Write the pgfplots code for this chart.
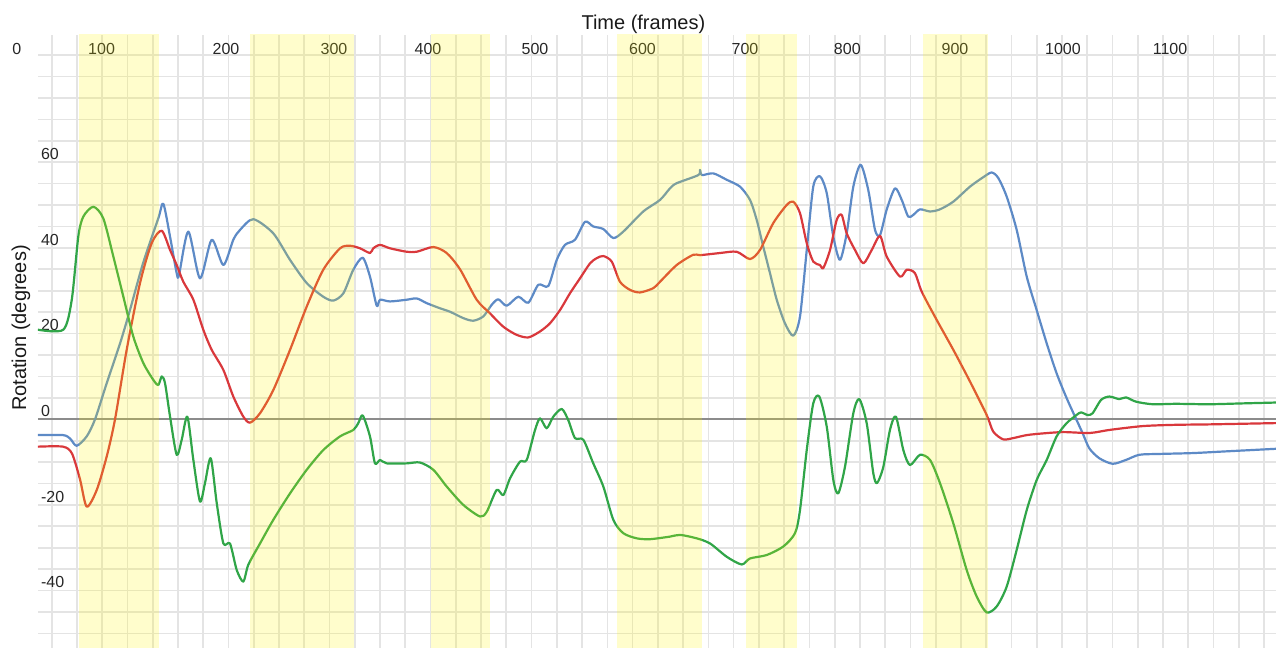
\documentclass[border=0pt]{standalone}
\usepackage{fontspec}
\setmainfont{Liberation Sans}
\usepackage{pgfplots}
\pgfplotsset{compat=1.18}

\definecolor{gridgray}{RGB}{228,228,228}
\definecolor{zerogray}{RGB}{140,140,140}
\definecolor{rotblue}{RGB}{93,138,198}
\definecolor{rotred}{RGB}{217,56,60}
\definecolor{rotgreen}{RGB}{48,165,72}
\definecolor{bandyellow}{RGB}{255,245,0}

\begin{document}
\begin{tikzpicture}
\path[use as bounding box] (0,0) rectangle (638pt,324pt);
\begin{axis}[
  at={(19pt,0pt)}, anchor=south west,
  scale only axis, width=619pt, height=306.5pt,
  xmin=40.5, xmax=1199.2, ymin=-53.4, ymax=89.7,
  axis line style={draw=none},
  major tick length=0pt,
  % grid lines
  xtick={53.35,76.988,...,1189},
  xticklabels={},
  ytick={-50,-45,...,85},
  yticklabels={},
  grid=major,
  grid style={gridgray, line width=0.85pt},
  % labelled positions, drawn after the grid
  extra x ticks={100,216.5,317.5,405.5,505.7,606.3,702.2,798,898.8,999.8,1100},
  extra x tick labels={100,200,300,400,500,600,700,800,900,1000,1100},
  extra x tick style={grid=none},
  extra y ticks={-40,-20,0,20,40,60},
  extra y tick labels={-40,-20,0,20,40,60},
  extra y tick style={grid=none},
  xticklabel pos=upper,
  x tick label style={anchor=base, yshift=-10pt},
  y tick label style={anchor=base west, inner sep=0pt, xshift=1.35pt, yshift=1.4pt},
  tick label style={font=\fontsize{8}{9.6}\selectfont, text=black!85},
  xlabel={Time (frames)},
  ylabel={Rotation (degrees)},
  label style={font=\fontsize{10}{12}\selectfont, text=black!90},
  xlabel style={at={(axis description cs:0.489,1)}, anchor=base, yshift=2.8pt},
  ylabel style={at={(axis description cs:-0.0137,0.522)}, anchor=center},
  every axis plot/.append style={line width=1.1pt, smooth, tension=0.45, line join=round, line cap=round},
]

% zero reference line
\draw[zerogray, line width=1pt] (axis cs:40.5,0) -- (axis cs:1199.2,0);

% blue rotation
\addplot[rotblue] coordinates {
(40.5,-3.7) (63.9,-3.7) (70.5,-4.5) (76.7,-6.2) (86.1,-4) (93.9,0) (104.8,8.4)
(117.3,17.7) (126.6,25.5) (138.8,36.4) (153.1,46.9) (157.8,50.3) (164.1,42.6)
(170.3,34.1) (172.5,33.7) (181.2,43.8) (192.1,32.9) (203.1,41.9) (214,36)
(223.3,41.9) (229.6,44.2) (242,46.7) (260.7,43.4) (276.4,37.2) (292,31.8)
(307.5,28.6) (316.9,27.7) (326.3,29.4) (335.6,34.9) (344.4,37.7) (351.2,33.3)
(357.5,26.5) (360.6,27.9) (370,27.5) (385.6,27.9) (395,28.2) (404.3,27.1)
(416.8,25.9) (426.1,25.1) (438.6,23.6) (447.9,23) (457.3,24) (465.1,26.7)
(471.3,28) (479.2,26.5) (490,28.6) (499.4,27.2) (508.8,31.4) (518.1,31.1)
(526,37.2) (533.7,40.7) (543.1,41.9) (552.5,46.1) (560.2,45) (569.6,44.4)
(579,42.3) (588.3,43.8) (607,48.5) (622.7,51.2) (632,53.9) (638.3,55.1)
(658.5,57) (660.1,58.2) (661.9,57) (672.5,57.4) (685.1,55.9) (697.5,54.3)
(706.9,51.2) (713.2,46.5) (719.3,40.3) (725.6,34.1) (731.9,27.9) (739.6,22.4)
(747.4,19.5) (753.7,24) (760,39.5) (766.1,54.3) (772.4,56.7) (778.7,52.8)
(784.9,42.6) (791.1,37.2) (797.4,43.4) (803.6,54.3) (810.5,59.4) (817.6,53.5)
(823.9,44.2) (828.6,43) (834.8,48.9) (842.6,53.9) (848.9,51.2) (855,47.3)
(859.7,47.7) (866,49) (875.4,48.5) (884.7,49) (897.2,50.8) (912.8,54.3)
(925.2,56.5) (933.1,57.6) (939.3,56.3) (947.1,52) (956.5,44.2) (965.9,33.3)
(975.2,25.5) (984.6,17.7) (993.9,10.7) (1003.3,4.9) (1012.6,-0.2) (1018.3,-3.3)
(1024.5,-6.8) (1033.8,-9.1) (1046.3,-10.4) (1058.8,-9.5) (1071.2,-8.3)
(1090,-8.1) (1121.2,-7.9) (1152.4,-7.5) (1199.2,-6.9)
};

% red rotation
\addplot[rotred] coordinates {
(40.5,-6.4) (63.9,-6.4) (72.3,-8) (79.8,-14) (86.1,-20.4) (95.5,-16.5)
(104.8,-8.7) (112.6,0) (123.5,16.2) (136,31.8) (146.9,41.1) (156.3,44)
(164.1,39.5) (170.3,36) (176.5,32.1) (185.9,27.9) (195.2,20.9) (203.1,16.2)
(214,11.5) (223.3,5.3) (232.7,0.6) (239,-0.8) (248.3,1.4) (260.7,6.8)
(276.4,16.2) (292,26.3) (307.5,34.9) (323.2,39.9) (332.5,40.5) (341.9,39.9)
(351.2,38.8) (354.3,39.9) (360.6,40.7) (370,39.9) (385.6,39.1) (395,39.1)
(410.5,40.2) (423,38.8) (435.5,35) (451.1,27.9) (463.6,24.7) (476,21.6)
(488.5,19.7) (499.4,19.1) (510.4,20.5) (519.7,22.4) (529.1,25.5) (538.4,29.4)
(547.8,32.9) (557.2,36.4) (563.4,37.6) (569.6,38.1) (577.5,36.8) (585.2,32.1)
(594.6,30.2) (603.9,29.6) (616.4,30.6) (622.7,32.1) (638.3,36) (653.8,38.4)
(660.1,38.3) (678.8,38.8) (694.4,39.1) (706.9,37.4) (716.2,39.5) (728.7,45.8)
(741.2,50) (747.4,50.8) (753.7,48.1) (760,41.1) (766.1,36.8) (772.4,36)
(775.5,35.3) (781.8,39.5) (788,46.5) (792.7,47.7) (797.4,43.4) (805.2,39.5)
(813,36.4) (820.8,39.5) (828.6,42.8) (834.8,38) (847.3,33.3) (853.6,34.9)
(861.3,34.1) (867.6,29.8) (881.6,23.2) (897.2,16.2) (912.8,8.8) (928.4,1)
(934.6,-2.9) (943.9,-4.7) (953.3,-4.4) (965.9,-3.7) (981.4,-3.3) (1000.1,-3)
(1025.1,-3.2) (1043.2,-2.5) (1074.4,-1.6) (1105.6,-1.3) (1136.8,-1.2)
(1199.2,-0.9)
};

% green rotation
\addplot[rotgreen] coordinates {
(40.5,20.9) (64.2,20.9) (72.1,27.9) (78.2,42.6) (82.9,47.3) (92.3,49.6)
(101.6,46.9) (111,38) (120.4,28.6) (129.7,19.3) (139.1,13.1) (148.4,9.2)
(153.1,8) (156.3,10) (159.4,8.4) (164.1,0.6) (170.3,-8.3) (175,-4.8)
(180.3,0.6) (185.9,-9.5) (192.1,-19.2) (196.8,-14.9) (202.2,-9.1)
(207.8,-19.6) (214,-29) (220.2,-29) (226.5,-35.2) (232.7,-37.9) (237.3,-34)
(248.3,-29) (260.7,-23.5) (276.4,-17.3) (292,-11.8) (307.5,-7.2) (323.2,-4)
(335.6,-2.5) (340.3,-0.9) (344.4,0.9) (351.2,-4) (355.9,-10.3) (360.6,-9.5)
(366.9,-10.3) (385.6,-10.3) (398,-10.1) (410.5,-11.8) (423,-15.7) (438.6,-20)
(454.2,-22.7) (460.5,-21.6) (469.8,-16.5) (476,-17.7) (482.3,-13.8)
(491.6,-9.9) (497.9,-9.5) (505.7,-2.5) (510.4,0.2) (516.6,-2.1) (522.8,0.6)
(530.7,2.4) (536.8,-0.2) (543.1,-4.4) (550.9,-4.8) (560.2,-10.3)
(569.6,-15.7) (579,-23.5) (588.3,-26.6) (600.9,-27.8) (613.3,-28)
(632,-27.4) (641.4,-27) (657,-27.8) (669.5,-29) (685.1,-32.1) (699.1,-33.9)
(706.9,-32.5) (722.5,-31.7) (738.1,-29.7) (749,-26.6) (753.7,-21.2)
(760,-7.2) (766.1,3.7) (771.8,5.3) (778.7,-1.7) (784.9,-14.2) (789.5,-17.3)
(795.8,-11.1) (803.6,1.4) (809.2,4.7) (816.1,-0.9) (822.3,-12.6)
(825.8,-14.9) (831.7,-11.1) (837.9,-2.5) (843.5,0.6) (850.4,-7.2)
(856.6,-10.7) (866,-8.3) (875.4,-9.5) (884.7,-14.9) (897.2,-24.3)
(909.7,-35.2) (919.1,-41.4) (928.4,-45.1) (937.8,-43.7) (947.1,-39.1)
(956.5,-30.5) (965.9,-21.2) (975.2,-14.2) (984.6,-9.5) (993.9,-4)
(1003.3,-0.9) (1012.6,1) (1016.7,1.6) (1022.9,1) (1027.6,1.4) (1035.4,4.5)
(1043.2,5.3) (1052.5,4.7) (1058.8,5.1) (1068.2,4.1) (1083.8,3.5)
(1105.6,3.6) (1136.8,3.5) (1168,3.7) (1199.2,3.9)
};

% highlighted intervals
\fill[bandyellow, opacity=0.2] (axis cs:79.2,-60) rectangle (axis cs:154,95);
\fill[bandyellow, opacity=0.2] (axis cs:238.9,-60) rectangle (axis cs:336.3,95);
\fill[bandyellow, opacity=0.2] (axis cs:408.3,-60) rectangle (axis cs:463.5,95);
\fill[bandyellow, opacity=0.2] (axis cs:582.7,-60) rectangle (axis cs:661.7,95);
\fill[bandyellow, opacity=0.2] (axis cs:702.9,-60) rectangle (axis cs:751.1,95);
\fill[bandyellow, opacity=0.2] (axis cs:868.5,-60) rectangle (axis cs:929.9,95);
\end{axis}
\node[anchor=base, font=\fontsize{8}{9.6}\selectfont, text=black!85] at (8.35pt,296.5pt) {0};
\end{tikzpicture}
\end{document}
